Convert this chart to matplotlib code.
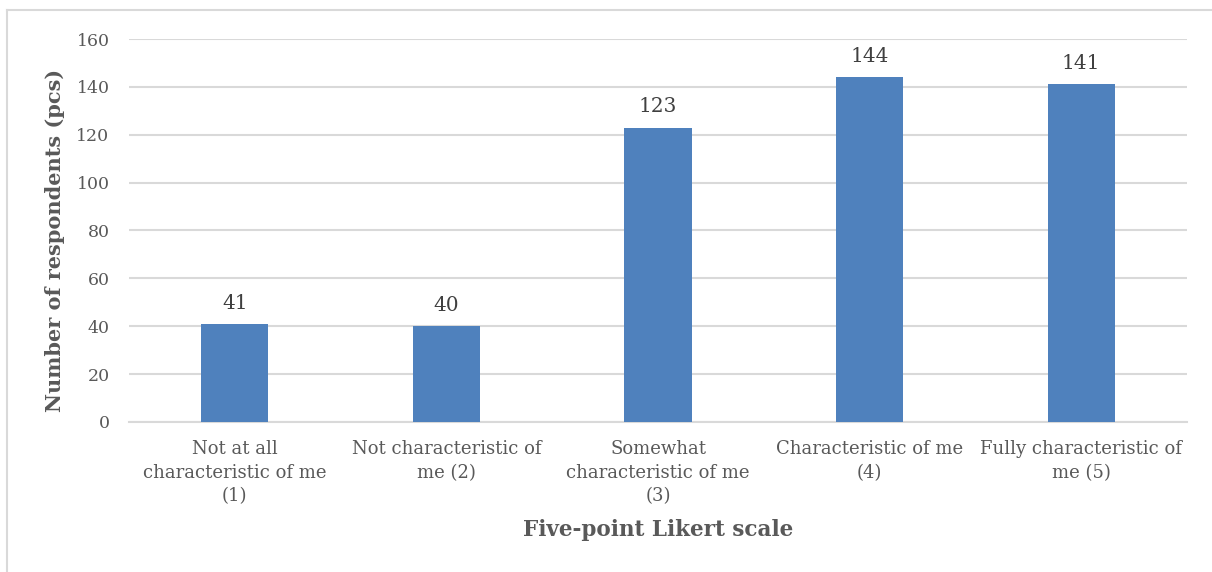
import matplotlib.pyplot as plt
from matplotlib.lines import Line2D

categories = [
    "Not at all\ncharacteristic of me\n(1)",
    "Not characteristic of\nme (2)",
    "Somewhat\ncharacteristic of me\n(3)",
    "Characteristic of me\n(4)",
    "Fully characteristic of\nme (5)",
]
respondents = [41, 40, 123, 144, 141]
y_ticks = [0, 20, 40, 60, 80, 100, 120, 140, 160]

plt.rcParams['font.family'] = ['DejaVu Serif']
text_color = '#595959'
grid_color = '#D9D9D9'
bar_color = '#4F81BD'

W, H = 1212, 572
fig = plt.figure(figsize=(W / 100, H / 100), dpi=100)
ax = fig.add_axes([129 / W, 1 - 422 / H, (1187 - 129) / W, (422 - 39) / H])

x = list(range(len(categories)))
bars = ax.bar(x, respondents, width=0.317, color=bar_color, zorder=3)

ax.set_xlim(-0.5, len(categories) - 0.5)
ax.set_ylim(0, 160)
ax.set_yticks(y_ticks)
ax.set_yticklabels([str(v) for v in y_ticks], fontsize=12.5, color=text_color)
ax.set_xticks(x)
ax.set_xticklabels(categories, fontsize=13, color=text_color, linespacing=1.4)

ax.yaxis.grid(True, color=grid_color, linewidth=1.5, zorder=0)
ax.tick_params(axis='both', length=0)
ax.tick_params(axis='y', pad=14)
ax.tick_params(axis='x', pad=13)
for side in ['top', 'right', 'left']:
    ax.spines[side].set_visible(False)
ax.spines['bottom'].set_color(grid_color)
ax.spines['bottom'].set_linewidth(1.5)

for xi, v in zip(x, respondents):
    ax.annotate(str(v), (xi, v), xytext=(0, 8), textcoords='offset points',
                ha='center', va='bottom', fontsize=14.5, color='#404040')

fig.text(55 / W, 1 - 240 / H, 'Number of respondents (pcs)', fontsize=15,
         fontweight='bold', color=text_color, ha='center', va='center',
         rotation=90)
fig.text(658 / W, 1 - 530 / H, 'Five-point Likert scale', fontsize=15.5,
         fontweight='bold', color=text_color, ha='center', va='center')

# Light chart-area border on the left and top
fig.add_artist(Line2D([7 / W, 7 / W], [0, 1 - 10 / H], transform=fig.transFigure,
                      color=grid_color, linewidth=1.5))
fig.add_artist(Line2D([7 / W, 1], [1 - 10 / H, 1 - 10 / H], transform=fig.transFigure,
                      color=grid_color, linewidth=1.5))

fig.savefig('out.png', dpi=100, facecolor='white')
